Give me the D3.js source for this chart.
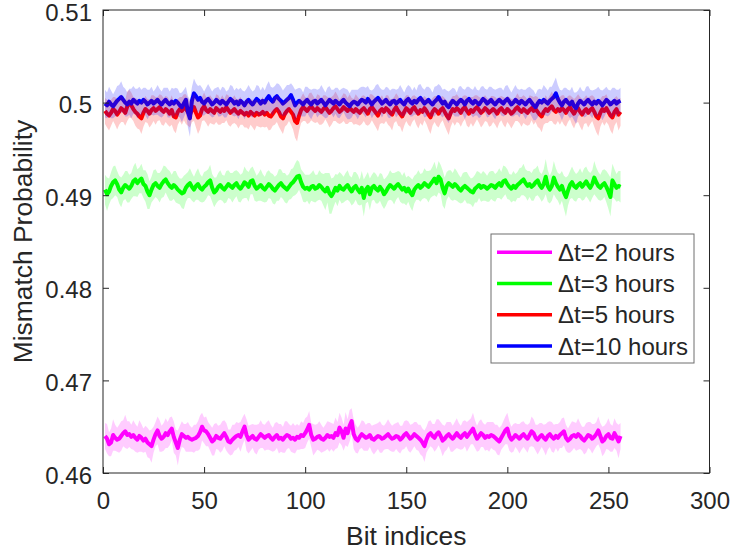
<!DOCTYPE html>
<html>
<head>
<meta charset="utf-8">
<script src="https://cdn.jsdelivr.net/npm/d3@7"></script>
<style>
  body { margin: 0; background: #fff; }
  svg { display: block; }
  text { font-family: "Liberation Sans", Arial, Helvetica, sans-serif; fill: #262626; }
</style>
</head>
<body>
<svg id="chart" width="732" height="557"></svg>
<script>
// values are in units of 1e-4 (mismatch probability * 10000), bit index = position + 1
var xTicks = [0, 50, 100, 150, 200, 250, 300];
var yTicks = [0.46, 0.47, 0.48, 0.49, 0.5, 0.51];
var seriesNames = ["\u0394t=2 hours", "\u0394t=3 hours", "\u0394t=5 hours", "\u0394t=10 hours"];
var seriesColours = ["#ff00ff", "#00ff00", "#ff0000", "#0000ff"];

// dt = 2 hours
var mean2 = [
  4640,4637,4631,4633,4641,4638,4636,4637,4640,4643,4645,4641,4642,4639,4641,4638,
  4636,4640,4638,4635,4637,4633,4631,4629,4636,4642,4646,4640,4637,4639,4643,4641,
  4645,4648,4639,4633,4627,4636,4642,4640,4638,4639,4637,4636,4637,4638,4640,4644,
  4650,4646,4645,4642,4638,4634,4636,4640,4638,4637,4640,4643,4639,4634,4633,4636,
  4638,4640,4641,4639,4645,4650,4641,4636,4638,4640,4637,4636,4639,4642,4640,4638,
  4640,4641,4638,4636,4639,4641,4637,4638,4636,4639,4641,4640,4637,4638,4636,4639,
  4638,4641,4640,4643,4647,4652,4641,4636,4637,4639,4640,4637,4636,4638,4641,4639,
  4640,4638,4643,4641,4649,4645,4638,4648,4643,4651,4656,4642,4637,4635,4639,4642,
  4640,4638,4639,4641,4637,4636,4638,4640,4639,4637,4638,4640,4642,4639,4637,4638,
  4640,4639,4636,4638,4641,4643,4640,4637,4639,4642,4640,4638,4636,4633,4629,4636,
  4641,4643,4640,4638,4642,4644,4640,4635,4637,4640,4642,4639,4637,4640,4643,4640,
  4638,4641,4643,4639,4642,4645,4648,4642,4637,4640,4643,4641,4638,4640,4639,4641,
  4640,4638,4636,4634,4638,4642,4646,4648,4640,4636,4638,4641,4639,4637,4640,4642,
  4639,4637,4641,4645,4643,4638,4636,4639,4641,4638,4636,4640,4642,4639,4637,4640,
  4638,4641,4643,4645,4638,4635,4637,4640,4641,4639,4642,4640,4637,4635,4638,4641,
  4640,4637,4639,4642,4646,4640,4634,4636,4640,4642,4638,4637,4643,4639,4634,4640
];
var std2 = [
  14,16,13,15,17,14,13,15,16,14,18,15,14,13,16,15,
  14,17,15,13,14,16,15,18,14,13,15,17,14,15,16,14,
  15,13,17,14,19,15,14,13,15,16,14,13,15,14,16,18,
  15,14,16,13,14,15,17,14,13,15,16,14,15,13,14,16,
  14,15,13,16,15,14,17,15,14,13,15,16,14,15,13,14,
  15,16,14,13,15,14,16,15,14,17,15,13,14,16,15,14,
  13,15,14,16,14,15,13,17,15,14,16,15,13,14,15,16,
  14,15,17,14,16,15,14,18,15,17,14,16,15,14,13,15,
  16,14,15,13,14,16,15,14,17,15,13,14,16,15,14,15,
  14,16,15,13,15,14,16,15,14,13,15,14,16,15,17,14,
  15,14,13,15,16,14,15,17,14,15,13,16,14,15,16,14,
  13,15,14,16,15,14,17,15,14,16,15,13,14,15,16,14,
  15,14,16,15,13,14,15,17,16,14,15,13,14,16,15,14,
  14,15,13,16,15,14,16,15,13,14,17,15,14,16,15,13,
  15,14,16,15,14,13,15,16,14,15,17,14,13,15,16,14,
  15,16,14,13,15,14,16,15,14,17,15,14,16,15,18,14
];

// dt = 3 hours
var mean3 = [
  4906,4901,4904,4910,4914,4916,4912,4906,4903,4908,4911,4909,4907,4910,4915,4917,
  4913,4916,4918,4912,4910,4904,4900,4906,4911,4913,4910,4908,4912,4915,4917,4913,
  4910,4908,4911,4909,4906,4904,4902,4903,4908,4911,4913,4909,4906,4910,4912,4908,
  4906,4909,4911,4914,4916,4908,4903,4905,4909,4911,4908,4906,4909,4912,4910,4908,
  4911,4913,4909,4907,4910,4914,4912,4909,4915,4916,4910,4907,4909,4911,4908,4906,
  4909,4912,4910,4907,4905,4908,4911,4913,4910,4908,4906,4909,4912,4914,4917,4920,
  4921,4914,4909,4907,4908,4906,4909,4910,4907,4908,4911,4909,4906,4904,4908,4902,
  4899,4903,4908,4905,4910,4907,4906,4909,4911,4907,4904,4908,4910,4906,4903,4908,
  4897,4906,4909,4901,4908,4910,4907,4905,4909,4906,4901,4904,4908,4911,4909,4907,
  4910,4912,4909,4906,4908,4904,4907,4903,4900,4906,4909,4911,4908,4910,4913,4911,
  4909,4912,4915,4918,4913,4920,4917,4908,4902,4910,4913,4911,4909,4912,4910,4907,
  4905,4908,4910,4908,4906,4904,4903,4907,4909,4911,4908,4910,4909,4907,4909,4911,
  4910,4908,4911,4913,4910,4915,4916,4912,4909,4907,4910,4908,4911,4913,4915,4917,
  4913,4910,4912,4909,4911,4914,4916,4911,4908,4912,4920,4910,4906,4910,4919,4913,
  4909,4906,4910,4903,4898,4905,4911,4914,4910,4908,4911,4913,4909,4912,4915,4911,
  4908,4912,4919,4914,4910,4908,4911,4913,4909,4904,4898,4916,4912,4908,4910,4909
];
var std3 = [
  16,18,14,15,17,16,14,15,16,14,15,17,15,14,16,18,
  15,14,16,15,17,19,15,14,16,15,14,16,15,17,14,15,
  16,14,15,17,15,14,16,18,15,14,16,15,14,15,17,15,
  14,16,15,14,17,15,16,14,15,16,14,15,17,15,14,16,
  15,14,16,15,14,17,15,16,14,15,16,14,15,17,15,14,
  16,15,14,16,15,14,17,15,14,16,15,14,16,15,17,18,
  15,14,16,15,14,16,15,17,15,14,16,15,17,20,16,22,
  19,16,15,17,15,16,14,15,16,14,15,17,15,16,14,18,
  20,15,16,17,14,15,16,14,15,17,16,15,14,16,15,17,
  15,14,16,15,17,15,14,16,17,15,14,16,15,14,16,15,
  17,15,16,18,15,17,16,19,17,15,14,16,15,17,16,15,
  14,16,15,17,15,14,16,15,17,14,15,16,15,14,16,15,
  16,15,14,16,15,17,15,16,14,15,16,15,14,16,15,17,
  15,16,14,15,17,15,16,14,15,16,19,17,15,16,18,16,
  15,17,16,18,21,16,15,17,16,15,14,16,15,17,16,15,
  16,15,18,16,15,14,16,15,17,19,21,18,16,15,16,17
];

// dt = 5 hours
var mean5 = [
  4991,4988,4986,4989,4993,4991,4987,4990,4994,4992,4989,4996,4999,4997,4993,4990,
  4988,4985,4983,4989,4993,4991,4988,4992,4994,4991,4993,4995,4992,4990,4993,4991,
  4988,4992,4985,4984,4990,4993,4991,4995,4993,4990,4987,4992,4995,4989,4984,4986,
  4993,4996,4992,4990,4993,4991,4989,4994,4992,4990,4993,4991,4995,4992,4989,4991,
  4993,4990,4988,4991,4989,4987,4989,4986,4990,4988,4986,4989,4987,4988,4990,4987,
  4989,4986,4985,4988,4991,4993,4990,4985,4983,4988,4991,4993,4990,4987,4980,4978,
  4986,4992,4995,4993,4991,4994,4996,4993,4991,4994,4992,4990,4993,4995,4992,4989,
  4991,4994,4996,4993,4990,4992,4995,4993,4991,4994,4992,4990,4993,4991,4989,4992,
  4994,4991,4988,4993,4995,4992,4989,4986,4991,4993,4990,4994,4992,4989,4987,4992,
  4995,4991,4988,4985,4990,4994,4992,4989,4993,4995,4991,4988,4992,4990,4994,4991,
  4987,4984,4990,4993,4991,4988,4992,4994,4990,4986,4983,4989,4993,4991,4994,4992,
  4989,4993,4995,4991,4988,4992,4990,4993,4995,4992,4989,4991,4994,4992,4989,4991,
  4993,4991,4988,4992,4994,4991,4989,4993,4991,4988,4990,4993,4995,4992,4990,4993,
  4991,4989,4992,4994,4991,4993,4990,4987,4985,4990,4993,4991,4994,4996,4992,4990,
  4993,4991,4994,4992,4989,4993,4995,4991,4988,4992,4994,4990,4987,4991,4993,4989,
  4992,4994,4990,4985,4983,4989,4993,4991,4994,4990,4986,4984,4990,4993,4987,4990
];
var std5 = [
  14,15,16,14,13,15,16,14,15,13,14,16,15,14,13,15,
  16,14,17,15,14,13,15,16,14,15,13,14,16,15,14,15,
  14,16,15,17,14,13,15,14,16,15,14,13,15,16,18,15,
  13,15,14,16,15,14,13,15,16,14,15,13,14,16,15,14,
  15,14,16,15,13,14,16,15,14,15,16,14,13,15,16,14,
  15,16,14,13,15,14,16,15,17,14,15,13,14,16,18,20,
  16,14,15,13,14,16,15,14,13,15,16,14,15,13,14,16,
  15,14,16,15,13,14,15,16,14,15,13,14,16,15,14,15,
  14,15,13,16,14,15,16,17,14,15,13,14,16,15,17,14,
  15,16,14,17,15,14,16,15,14,13,15,16,14,15,13,14,
  16,18,15,14,16,15,14,13,15,16,18,15,14,16,15,14,
  15,14,13,16,15,14,16,15,13,14,16,15,14,13,15,16,
  14,15,16,14,13,15,16,14,15,16,14,13,15,14,16,15,
  15,14,16,13,15,14,16,15,17,14,15,13,14,16,15,14,
  13,15,14,16,15,14,13,15,16,14,15,16,17,14,15,16,
  15,14,16,17,19,15,14,16,15,14,16,18,15,14,17,15
];

// dt = 10 hours
var mean10 = [
  4999,4997,5001,4998,4996,4999,5002,5004,5006,5003,5000,4998,5001,4999,5003,5001,
  4999,5002,5000,5003,5001,4998,5000,5002,4999,5001,5003,5000,4998,5001,5003,5000,
  4998,5001,4999,5002,5000,4997,4995,4999,5003,4990,4983,5002,5010,5007,5003,5005,
  5001,4999,5002,5004,5001,4998,5000,5003,5001,4999,5002,5000,4998,5001,5004,5002,
  4999,5001,4998,5002,5000,4997,5001,5003,5000,4998,5001,5004,5002,4999,5002,5000,
  5004,5007,5003,5001,5005,5007,5004,5002,4999,5001,5003,5005,5008,5003,4997,5000,
  5002,5000,4998,5001,5003,5000,4998,5001,5002,4999,5001,5003,5000,4997,5000,5003,
  5001,4999,5002,5000,4998,5001,5003,5000,4998,4996,4999,5001,5000,4998,5001,5003,
  5002,5000,5004,5001,4998,5001,5003,5005,5002,4999,5001,5003,5000,4998,5001,5002,
  4999,5001,5003,5000,4998,5002,5004,5001,4999,5002,5000,5003,5005,5002,4999,5001,
  5003,5000,4998,5001,5003,5006,5002,4999,5001,4997,4995,4999,5002,5000,4998,5001,
  5003,5001,4998,5002,5004,5001,4999,5002,5000,4998,5001,5004,5002,4999,5001,5003,
  5000,4998,5001,5003,5001,4999,5002,5004,5001,4998,5000,5003,5001,4999,5002,5000,
  4998,5001,5003,5000,4997,4995,4999,5002,5000,5003,5001,4999,5002,5004,5006,5010,
  5004,5000,4997,5001,5003,5000,4998,5001,4996,4994,4999,5002,5000,4998,5001,5003,
  5000,4998,5001,4999,5002,5000,4997,5000,5003,5001,4998,5000,5002,4999,5001,5002
];
var std10 = [
  15,14,16,15,13,14,16,15,17,14,15,13,14,16,15,14,
  16,15,14,13,15,16,14,15,13,14,16,15,14,15,13,16,
  14,15,16,14,15,13,16,15,14,17,20,15,16,14,15,14,
  15,13,14,16,15,14,15,13,16,14,15,16,14,13,15,16,
  14,15,16,14,13,15,14,16,15,14,13,15,16,14,15,13,
  15,16,14,15,13,14,16,15,14,15,16,14,13,15,17,15,
  14,15,13,16,14,15,16,14,13,15,14,16,15,14,16,15,
  13,15,14,16,15,14,13,15,16,14,15,13,14,16,15,14,
  15,16,14,13,15,14,16,15,14,15,13,14,16,15,14,13,
  15,14,16,15,13,14,15,16,14,15,13,16,15,14,15,16,
  14,15,13,16,15,14,16,15,14,16,17,15,14,15,13,16,
  15,14,16,15,13,14,15,16,14,15,16,14,13,15,16,14,
  15,16,14,13,15,14,16,15,14,13,15,16,14,15,13,14,
  16,15,14,15,16,14,15,13,14,16,15,14,15,13,16,17,
  15,14,16,15,13,14,15,16,15,17,14,15,13,14,16,15,
  14,15,13,16,15,14,16,15,14,13,15,16,14,15,13,14
];

var means = [mean2, mean3, mean5, mean10];
var stds = [std2, std3, std5, std10];

var svg = d3.select("#chart");
svg.append("rect").attr("width", 732).attr("height", 557).attr("fill", "#fff");

var plotLeft = 103, plotRight = 709.5, plotTop = 10, plotBottom = 473;

var x = d3.scaleLinear().domain([0, 300]).range([plotLeft, plotRight]);
var y = d3.scaleLinear().domain([0.46, 0.51]).range([plotBottom, plotTop]);

var meanLine = d3.line()
    .x(function (d, i) { return x(i + 1) })
    .y(function (d) { return y(d / 1e4) });

var plot = svg.append("g");

// mean lines first, then the shaded std bands over them
means.forEach(function (m, k) {
    plot.append("path")
        .datum(m)
        .attr("d", meanLine)
        .attr("fill", "none")
        .attr("stroke", seriesColours[k])
        .attr("stroke-width", 4)
        .attr("stroke-linejoin", "round");
});

means.forEach(function (m, k) {
    var s = stds[k];
    var band = d3.area()
        .x(function (d, i) { return x(i + 1) })
        .y0(function (d, i) { return y((d - s[i]) / 1e4) })
        .y1(function (d, i) { return y((d + s[i]) / 1e4) });
    plot.append("path")
        .datum(m)
        .attr("d", band)
        .attr("fill", seriesColours[k])
        .attr("fill-opacity", 0.2)
        .attr("stroke", "none");
});

// axes (MATLAB style: ticks inside, box on)
var axisColour = "#262626";

function styleAxis(g) {
    g.select(".domain").remove();
    g.selectAll("line").attr("stroke", axisColour);
    g.selectAll("text").attr("fill", axisColour).style("font-size", "24px");
}

svg.append("g")
    .attr("transform", "translate(0," + plotBottom + ")")
    .call(d3.axisBottom(x).tickValues(xTicks).tickSize(-6).tickSizeOuter(0).tickPadding(19))
    .call(styleAxis);

svg.append("g")
    .attr("transform", "translate(0," + plotTop + ")")
    .call(d3.axisTop(x).tickValues(xTicks).tickSize(-6).tickSizeOuter(0).tickFormat(""))
    .call(styleAxis);

svg.append("g")
    .attr("transform", "translate(" + plotLeft + ",0)")
    .call(d3.axisLeft(y).tickValues(yTicks).tickSize(-6).tickSizeOuter(0).tickPadding(11)
        .tickFormat(d3.format(".2~f")))
    .call(styleAxis)
    .call(function (g) { g.selectAll("text").attr("dy", "0.42em") });

svg.append("g")
    .attr("transform", "translate(" + plotRight + ",0)")
    .call(d3.axisRight(y).tickValues(yTicks).tickSize(-6).tickSizeOuter(0).tickFormat(""))
    .call(styleAxis);

svg.append("rect")
    .attr("x", plotLeft)
    .attr("y", plotTop)
    .attr("width", plotRight - plotLeft)
    .attr("height", plotBottom - plotTop)
    .attr("fill", "none")
    .attr("stroke", axisColour)
    .attr("stroke-width", 1);

// axis labels
svg.append("text")
    .attr("x", (plotLeft + plotRight) / 2)
    .attr("y", 545)
    .attr("text-anchor", "middle")
    .style("font-size", "26.4px")
    .text("Bit indices");

svg.append("text")
    .attr("transform", "translate(32," + ((plotTop + plotBottom) / 2) + ") rotate(-90)")
    .attr("text-anchor", "middle")
    .style("font-size", "26.4px")
    .text("Mismatch Probability");

// legend
var legend = svg.append("g").attr("transform", "translate(491,234)");

legend.append("rect")
    .attr("width", 203)
    .attr("height", 129)
    .attr("fill", "#fff")
    .attr("stroke", "#6e6e6e")
    .attr("stroke-width", 1);

var rows = legend.selectAll("g.row")
    .data(seriesNames)
    .enter()
    .append("g")
    .attr("class", "row")
    .attr("transform", function (d, i) { return "translate(0," + (18.3 + i * 31.2) + ")" });

rows.append("line")
    .attr("x1", 6)
    .attr("x2", 61)
    .attr("stroke", function (d, i) { return seriesColours[i] })
    .attr("stroke-width", 3.5);

rows.append("text")
    .attr("x", 67)
    .attr("dy", "0.36em")
    .style("font-size", "24px")
    .text(function (d) { return d });
</script>
</body>
</html>
